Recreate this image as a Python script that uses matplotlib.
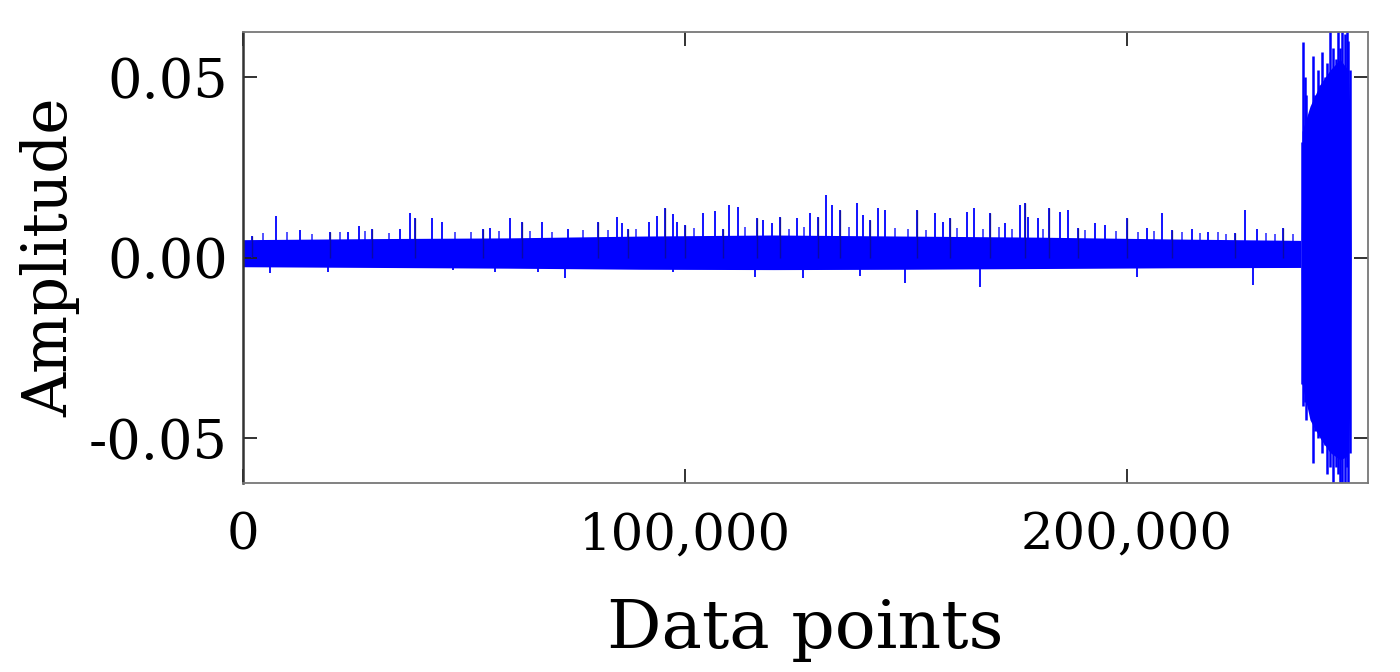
import matplotlib
matplotlib.use("Agg")
import matplotlib.pyplot as plt
import matplotlib.ticker as mticker

# dense noise band (sample index, upper / lower edge)
band_x = [0, 30000, 60000, 90000, 120000, 150000, 180000, 210000, 239300]
band_hi = [0.0050, 0.0053, 0.0055, 0.0060, 0.0063, 0.0060, 0.0057, 0.0052, 0.0048]
band_lo = [-0.0025, -0.0027, -0.0029, -0.0032, -0.0033, -0.0032, -0.0030, -0.0028, -0.0027]

# isolated spikes sticking out of the band
spike_x = [2000, 7470, 12900, 19700, 23760, 26240, 29190, 35520, 37780, 38910,
           42760, 45020, 54300, 55880, 60410, 63120, 67650, 73530, 80320, 84620,
           85750, 87100, 91860, 93670, 95480, 97290, 98190, 100000, 104070, 106790,
           108600, 109950, 111990, 116290, 117650, 119680, 121490, 125340, 128280, 130090,
           131900, 133260, 135070, 138910, 140270, 141860, 143670, 145250, 152490, 156560,
           158370, 159950, 163800, 165380, 169000, 172400, 175790, 176920, 177600, 179860,
           182350, 184840, 186650, 188910, 192760, 195020, 200000, 204520, 207920, 210180,
           214700, 218330, 224430, 226700, 229410, 235290]
spike_y = [0.0060, 0.0115, 0.0076, 0.0070, 0.0071, 0.0087, 0.0079, 0.0079, 0.0123, 0.0109,
           0.0109, 0.0098, 0.0079, 0.0082, 0.0109, 0.0098, 0.0098, 0.0079, 0.0098, 0.0112,
           0.0096, 0.0079, 0.0098, 0.0115, 0.0137, 0.0120, 0.0098, 0.0090, 0.0123, 0.0129,
           0.0079, 0.0145, 0.0140, 0.0109, 0.0104, 0.0096, 0.0112, 0.0109, 0.0123, 0.0112,
           0.0173, 0.0145, 0.0132, 0.0151, 0.0118, 0.0104, 0.0137, 0.0132, 0.0132, 0.0123,
           0.0098, 0.0109, 0.0126, 0.0137, 0.0123, 0.0096, 0.0145, 0.0151, 0.0112, 0.0109,
           0.0137, 0.0126, 0.0132, 0.0082, 0.0096, 0.0090, 0.0109, 0.0082, 0.0123, 0.0076,
           0.0079, 0.0071, 0.0068, 0.0132, 0.0079, 0.0082]

# smaller bumps on the band edge
bump_x = [4500, 10000, 15500, 22000, 27500, 33000, 48000, 51500, 58000, 65000,
          70000, 77000, 82500, 89000, 102000, 113500, 123500, 127000, 137000, 147500,
          150500, 154500, 161500, 167500, 171000, 174000, 181000, 190500, 197500, 202500,
          206000, 212500, 216500, 220500, 222500, 231500, 233500, 237500]
bump_y = [0.0068, 0.0072, 0.0066, 0.0070, 0.0074, 0.0068, 0.0072, 0.0070, 0.0075, 0.0074,
          0.0070, 0.0078, 0.0076, 0.0080, 0.0082, 0.0085, 0.0080, 0.0084, 0.0086, 0.0082,
          0.0080, 0.0078, 0.0083, 0.0080, 0.0084, 0.0079, 0.0080, 0.0076, 0.0074, 0.0072,
          0.0074, 0.0070, 0.0068, 0.0070, 0.0066, 0.0068, 0.0065, 0.0066]

dip_x = [6110, 19230, 47510, 57010, 66740, 72850, 97290, 115840, 126700, 139600,
         149770, 166740, 202260, 228510]
dip_y = [-0.0043, -0.0040, -0.0035, -0.0040, -0.0040, -0.0057, -0.0040, -0.0054, -0.0057, -0.0051,
         -0.0071, -0.0082, -0.0054, -0.0076]

# high amplitude burst at the end
burst_x = [239600, 239820, 240270, 240500, 241400, 242080, 242600, 243210, 243660, 244120,
           244700, 245250, 245930, 246600, 247290, 247740, 248190, 248640, 249320, 249770,
           250000, 250450]
burst_hi = [0.032, 0.0597, 0.050, 0.045, 0.040, 0.056, 0.045, 0.052, 0.048, 0.057,
            0.050, 0.054, 0.066, 0.058, 0.055, 0.063, 0.058, 0.066, 0.062, 0.066,
            0.060, 0.052]
burst_lo = [-0.035, -0.041, -0.040, -0.045, -0.042, -0.057, -0.048, -0.050, -0.048, -0.054,
            -0.052, -0.060, -0.058, -0.066, -0.058, -0.060, -0.066, -0.066, -0.063, -0.058,
            -0.066, -0.054]
core_x = [239400, 239600, 241400, 243660, 245930, 248190, 250000, 250450, 250700]
core_hi = [0.005, 0.035, 0.042, 0.048, 0.052, 0.055, 0.052, 0.040, 0.0]
core_lo = [-0.003, -0.035, -0.045, -0.050, -0.054, -0.056, -0.055, -0.040, 0.0]

x_ticks = [0, 100000, 200000]
y_ticks = [-0.05, 0.0, 0.05]

plt.rcParams['font.family'] = ['DejaVu Serif']
plt.rcParams['axes.unicode_minus'] = False

fig = plt.figure(figsize=(14, 6.72), dpi=100)
ax = fig.add_axes([0.1736, 0.281, 0.8035, 0.671])

c = '#0000ff'
ax.fill_between(band_x, band_lo, band_hi, color=c, lw=0)
ax.vlines(bump_x, 0, bump_y, color=c, lw=1.2, alpha=0.8)
ax.vlines(spike_x, 0, spike_y, color=c, lw=1.3)
ax.vlines(spike_x[::3], 0, spike_y[::3], color='#10106a', lw=1.0, alpha=0.6)
ax.vlines(dip_x, 0, dip_y, color=c, lw=1.3)
ax.fill_between(core_x, core_lo, core_hi, color=c, lw=0)
ax.vlines(burst_x, burst_lo, burst_hi, color=c, lw=1.8)

ax.set_xlim(0, 254500)
ax.set_ylim(-0.0625, 0.0625)
ax.set_xticks(x_ticks)
ax.set_yticks(y_ticks)
ax.xaxis.set_major_formatter(mticker.StrMethodFormatter('{x:,.0f}'))
ax.yaxis.set_major_formatter(mticker.FormatStrFormatter('%.2f'))
ax.tick_params(direction='in', length=10, width=1.3, labelsize=37,
               top=True, right=True, color='#222222')
ax.tick_params(axis='x', pad=20)
ax.tick_params(axis='y', pad=11, labelsize=39)
for s in ax.spines.values():
    s.set_color('#777777')
    s.set_linewidth(1.3)
ax.spines['left'].set_color('#333333')
ax.spines['left'].set_linewidth(1.8)

ax.set_xlabel('Data points', fontsize=49, labelpad=26)
ax.set_ylabel('Amplitude', fontsize=44, labelpad=6)

fig.savefig('out.png', dpi=100)
